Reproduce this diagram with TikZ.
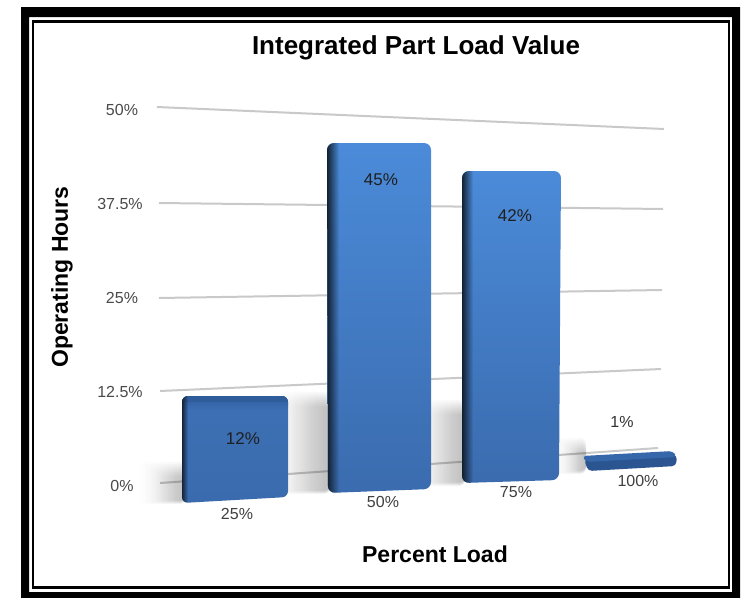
\documentclass[tikz,border=0pt]{standalone}
\usepackage{fontspec}
\setmainfont{Liberation Sans}
\usetikzlibrary{fadings}

\definecolor{barhi}{HTML}{4B8BD9}
\definecolor{barlo}{HTML}{3A6BAE}
\definecolor{bardark}{HTML}{0E1824}
\definecolor{bartop}{HTML}{2F5C9B}
\definecolor{slabtop}{HTML}{3567AA}
\definecolor{slabfront}{HTML}{2A5590}
\definecolor{gridgray}{HTML}{C9C9C9}
\definecolor{ticktext}{HTML}{4A4A4A}

\tikzset{
  grid line/.style={gridgray, line width=2pt},
  tick label/.style={font=\fontsize{16}{18}\selectfont, text=ticktext, inner sep=0pt},
  cat label/.style={font=\fontsize{16}{18}\selectfont, text=black!75, inner sep=0pt},
  value label/.style={font=\fontsize{17}{19}\selectfont, text=black!88, inner sep=0pt},
  axis title/.style={font=\bfseries\fontsize{23}{26}\selectfont, inner sep=0pt},
  shadow layer/.style={fill=black, opacity=0.035, path fading=west, rounded corners=6pt},
  bar face/.style={top color=barhi, bottom color=barlo},
  bar side/.style={fill=bardark, path fading=east},
}

% soft floor shadow built from stacked translucent layers
\newcommand\softshadow[4]{%
  \foreach \k in {0,...,7}
    \fill[shadow layer] ({#1+3*\k},{#2+2*\k}) rectangle ({#3},{#4-0.5*\k});%
}

\begin{document}
\begin{tikzpicture}[x=1pt,y=-1pt]
\useasboundingbox (0,0) rectangle (744,597);
\fill[white] (0,0) rectangle (744,597);

% double frame
\fill[black, even odd rule] (21,7) rectangle (740,603) (29,17) rectangle (732,592);
\draw[black, line width=2.5pt] (33,21.5) rectangle (729,587.3);

% title
\node[font=\bfseries\fontsize{26}{30}\selectfont, inner sep=0pt] (title) at (416,48) {Integrated Part Load Value};

% grid lines (in perspective)
\coordinate (g0l) at (160,483);  \coordinate (g0r) at (658,448);
\coordinate (g1l) at (160,391);  \coordinate (g1r) at (661,369);
\coordinate (g2l) at (159,298);  \coordinate (g2r) at (662,290);
\coordinate (g3l) at (159,203);  \coordinate (g3r) at (663,209);
\coordinate (g4l) at (157,107);  \coordinate (g4r) at (664,129);
\foreach \g in {0,...,4} \draw[grid line] (g\g l) -- (g\g r);

% tick labels
\node[tick label] (t0) at (122,486) {0\%};
\node[tick label] (t1) at (120,392) {12.5\%};
\node[tick label] (t2) at (122,298) {25\%};
\node[tick label] (t3) at (120,204) {37.5\%};
\node[tick label] (t4) at (122,110) {50\%};

% shadows on the floor
\softshadow{136}{462}{186}{504}
\softshadow{268}{392}{330}{494}
\softshadow{408}{400}{465}{486}
\softshadow{550}{438}{586}{474}

% bar at 25% load
\begin{scope}
  \clip[rounded corners=6pt] (182,396) -- (288,396) -- (288,497) -- (182,503) -- cycle;
  \shade[bar face, top color=barlo!85!barhi] (180,394) rectangle (290,505);
  \fill[bartop, path fading=south] (180,394) rectangle (290,410);
  \fill[bartop] (180,394) rectangle (290,402);
  \fill[bar side] (181,394) rectangle (188,505);
\end{scope}

% bar at 50% load
\begin{scope}
  \clip[rounded corners=7pt] (327,143) -- (431,143) -- (431,489) -- (328,493) -- cycle;
  \shade[bar face] (325,141) rectangle (433,495);
  \fill[bar side] (326,141) rectangle (339,495);
\end{scope}

% bar at 75% load
\begin{scope}
  \clip[rounded corners=7pt] (462,171) -- (561,171) -- (559,480) -- (462,483) -- cycle;
  \shade[bar face] (460,169) rectangle (563,485);
  \fill[bar side] (461,169) rectangle (473,485);
\end{scope}

% slab at 100% load
\fill[slabfront, rounded corners=4pt] (584,459) -- (677,455) -- (676,466) -- (588,471) -- cycle;
\fill[slabtop, rounded corners=4pt] (582,456) -- (673,451) -- (677,457) -- (586,462) -- cycle;

% value labels
\node[value label] (v1) at (243,439) {12\%};
\node[value label] (v2) at (381,180) {45\%};
\node[value label] (v3) at (515,216) {42\%};
\node[tick label, text=black!80] (v4) at (622,422) {1\%};

% category labels
\node[cat label] (c1) at (237,514) {25\%};
\node[cat label] (c2) at (383,502) {50\%};
\node[cat label] (c3) at (516,492) {75\%};
\node[cat label] (c4) at (638,481) {100\%};

% axis titles
\node[axis title] (xtitle) at (435,554) {Percent Load};
\node[axis title, rotate=90] (ytitle) at (62,277) {Operating Hours};
\end{tikzpicture}
\end{document}
